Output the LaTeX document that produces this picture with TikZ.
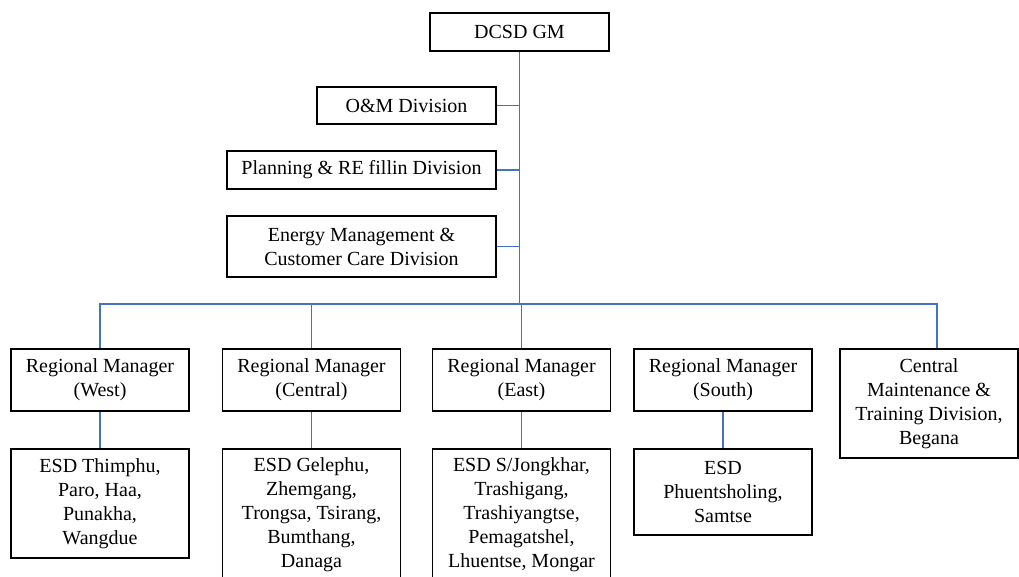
\documentclass[tikz,border=0pt]{standalone}
\usepackage{fontspec}
\setmainfont{Liberation Serif}
\definecolor{linkblue}{RGB}{68,114,196}

\begin{document}
\begin{tikzpicture}[x=0.5pt, y=-0.5pt,
  unit/.style={draw, line width=0.75pt, align=center, inner sep=2pt,
    font=\fontsize{10}{12}\selectfont, minimum width=89pt},
  link/.style={draw=linkblue, line width=0.6pt}]
  \useasboundingbox (0,0) rectangle (1019,577);
  % ---- direcao geral ----
  \node[unit, minimum width=89.5pt, minimum height=19pt] (gm) at (519.5,32) {DCSD GM};
  % ---- divisoes ----
  \node[unit, minimum width=89.5pt, minimum height=18.5pt] (om) at (406.5,105.5) {O\&M Division};
  \node[unit, minimum width=134.5pt, minimum height=19pt] (plan) at (361.5,170) {Planning \& RE fillin Division};
  \node[unit, minimum width=134.5pt, minimum height=30.5pt] (emcc) at (361.5,246.5) {Energy Management \&\\Customer Care Division};
  % ---- gerentes regionais ----
  \node[unit, minimum height=31pt] (rmwest) at (100,380) {Regional Manager\\(West)};
  \node[unit, minimum height=31pt] (rmcentral) at (311.5,380) {Regional Manager\\(Central)};
  \node[unit, minimum height=31pt] (rmeast) at (521.5,380) {Regional Manager\\(East)};
  \node[unit, minimum height=31pt] (rmsouth) at (723,380) {Regional Manager\\(South)};
  \node[unit, minimum height=54.5pt] (cmtd) at (929,403.5) {Central\\Maintenance \&\\Training Division,\\Begana};
  % ---- ESD ----
  \node[unit, minimum height=54.5pt] (esdwest) at (100,503.5) {ESD Thimphu,\\Paro, Haa,\\Punakha,\\Wangdue};
  \node[unit, minimum height=65.5pt] (esdcentral) at (311.5,514.5) {ESD Gelephu,\\Zhemgang,\\Trongsa, Tsirang,\\Bumthang,\\Danaga};
  \node[unit, minimum height=65.5pt] (esdeast) at (521.5,514.5) {ESD S/Jongkhar,\\Trashigang,\\Trashiyangtse,\\Pemagatshel,\\Lhuentse, Mongar};
  \node[unit, minimum height=43pt] (esdsouth) at (723,492) {ESD\\Phuentsholing,\\Samtse};
  % ---- ligacoes ----
  \coordinate (bus) at (519.5,304);
  \coordinate (cmtop) at ([xshift=4pt]cmtd.north);
  \draw[link] (gm.south) -- (bus);
  \foreach \d in {om, plan, emcc}
    \draw[link] (\d.east) -- (\d.east -| gm.south);
  \draw[link] (rmwest.north) |- (cmtop |- bus) -- (cmtop);
  \draw[link] (rmcentral.north) -- (rmcentral.north |- bus);
  \draw[link] (rmeast.north) -- (rmeast.north |- bus);
  \foreach \r in {west, central, east, south}
    \draw[link] (rm\r.south) -- (esd\r.north);
\end{tikzpicture}
\end{document}
